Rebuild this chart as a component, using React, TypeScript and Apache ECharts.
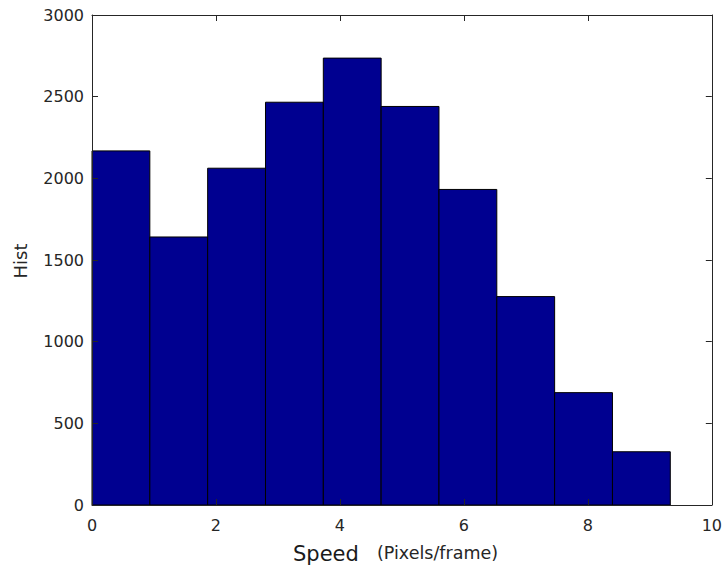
import React, { useEffect, useRef } from "react";
import * as echarts from "echarts";

const binStarts = [0, 0.933, 1.866, 2.799, 3.732, 4.665, 5.598, 6.531, 7.464, 8.397];
const binEnds = [0.933, 1.866, 2.799, 3.732, 4.665, 5.598, 6.531, 7.464, 8.397, 9.33];
const counts = [2168, 1641, 2062, 2466, 2736, 2440, 1932, 1276, 688, 326];
const xLabel = "Speed";
const xUnit = "(Pixels/frame)";
const yLabel = "Hist";

const FONT = "DejaVu Sans";
const AXIS = "#262626";

export default function App() {
  const ref = useRef<HTMLDivElement>(null);
  useEffect(() => {
    if (!ref.current) return;
    const chart = echarts.init(ref.current, undefined, { renderer: "svg" });
    const data = binStarts.map((s, i) => [s, binEnds[i], counts[i]]);
    const mk = (pos: string, labels: boolean, isY: boolean) => ({
      type: "value",
      min: 0,
      max: isY ? 3000 : 10,
      interval: isY ? 500 : 2,
      position: pos,
      z: 5,
      axisLine: { show: true, onZero: false, lineStyle: { color: AXIS, width: 1 } },
      axisTick: { show: true, inside: true, length: 6, lineStyle: { color: AXIS, width: 1 } },
      splitLine: { show: false },
      axisLabel: labels
        ? {
            show: true,
            color: AXIS,
            fontFamily: FONT,
            fontSize: 16,
            margin: isY ? 8 : 12,
            formatter: (v: number) => String(v),
          }
        : { show: false },
    });
    chart.setOption({
      animation: false,
      backgroundColor: "#ffffff",
      grid: { left: 92, right: 13, top: 15, bottom: 68 },
      xAxis: [mk("bottom", true, false), mk("top", false, false)],
      yAxis: [mk("left", true, true), mk("right", false, true)],
      series: [
        {
          type: "custom",
          xAxisIndex: 0,
          yAxisIndex: 0,
          z: 2,
          encode: { x: [0, 1], y: 2 },
          data,
          renderItem: (params: any, api: any) => {
            const p0 = api.coord([api.value(0), api.value(2)]);
            const p1 = api.coord([api.value(1), 0]);
            return {
              type: "rect",
              shape: { x: p0[0], y: p0[1], width: p1[0] - p0[0], height: p1[1] - p0[1] },
              style: { fill: "#000090", stroke: "#000000", lineWidth: 1 },
            };
          },
        },
      ],
      graphic: [
        {
          type: "text", left: 293, top: 543,
          style: { text: xLabel, fill: "#1a1a1a", font: `21px ${FONT}` },
        },
        {
          type: "text", left: 377, top: 544,
          style: { text: xUnit, fill: AXIS, font: `17.5px ${FONT}` },
        },
        {
          type: "text", x: 20, y: 261, rotation: Math.PI / 2,
          style: { text: yLabel, fill: AXIS, font: `18px ${FONT}`, align: "center", verticalAlign: "middle" },
        },
      ],
    });
    return () => chart.dispose();
  }, []);
  return (
    <div
      ref={ref}
      style={{ position: "fixed", left: 0, top: 0, width: 725, height: 573, background: "#fff" }}
    />
  );
}
